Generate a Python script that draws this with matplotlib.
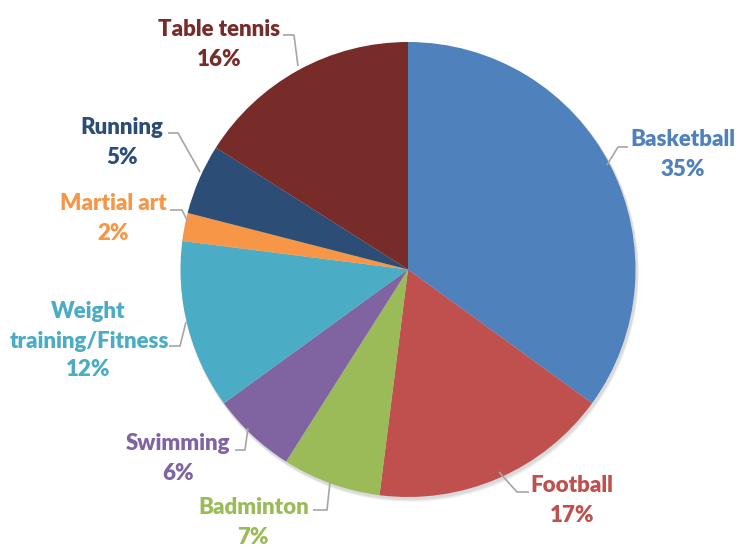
import matplotlib
matplotlib.use("Agg")
import matplotlib.pyplot as plt
from matplotlib.patches import Circle

plt.rcParams['font.family'] = ['Lato', 'DejaVu Sans']

categories = ["Basketball", "Football", "Badminton", "Swimming",
              "Weight\ntraining/Fitness", "Martial art", "Running", "Table tennis"]
values = [35, 17, 7, 6, 12, 2, 5, 16]
colors = ["#4F81BD", "#C0504D", "#9BBB59", "#8064A2",
          "#4BACC6", "#F79646", "#2C4D75", "#772C2A"]

W, H = 744, 554
fig = plt.figure(figsize=(W / 100, H / 100), dpi=100)
ax = fig.add_axes([0, 0, 1, 1])

cx, cy, R = 408, 269.5, 227.5


def P(x, y):
    return x, H - y


# subtle shadow
for off, a in [(4, 0.04), (3, 0.05), (2, 0.06)]:
    ax.add_patch(Circle(P(cx + off * 0.6, cy + off), R + 1, color="black", alpha=a, lw=0, zorder=0))

ax.pie(values, colors=colors, startangle=90, counterclock=False,
       center=P(cx, cy), radius=R, frame=True,
       wedgeprops=dict(linewidth=0, zorder=2))

# label layout (pixel coords: name-line centers, percent center, leader path)
layout = [
    dict(lines=[(683, 140)], pct=(683, 170), path=[(628, 147), (618, 147), (607, 165)]),
    dict(lines=[(572, 486)], pct=(572, 516), path=[(529, 492), (517, 492), (499, 472)]),
    dict(lines=[(254, 508)], pct=(253, 538), path=[(313, 510), (327, 510), (330, 482)]),
    dict(lines=[(178, 443)], pct=(178, 473), path=[(235, 450), (245, 450), (248, 428)]),
    dict(lines=[(88, 312), (89, 341)], pct=(88, 370), path=[(169, 346), (180, 346), (186, 322)]),
    dict(lines=[(113, 204)], pct=(113, 233), path=[(170, 210), (182, 210), (188, 222)]),
    dict(lines=[(122, 128)], pct=(122, 157), path=[(168, 133), (178, 133), (200, 172)]),
    dict(lines=[(219, 29)], pct=(219, 59), path=[(283, 35), (294, 35), (298, 66)]),
]

fs = 16
for cat, val, col, lay in zip(categories, values, colors, layout):
    for txt, (x, y) in zip(cat.split("\n"), lay["lines"]):
        ax.text(*P(x, y), txt, ha="center", va="center", fontsize=fs,
                fontweight="heavy", color=col, zorder=5)
    ax.text(*P(*lay["pct"]), f"{val}%", ha="center", va="center", fontsize=fs,
            fontweight="heavy", color=col, zorder=5)
    xs = [p[0] for p in lay["path"]]
    ys = [H - p[1] for p in lay["path"]]
    ax.plot(xs, ys, color="#A6A6A6", lw=1.2, zorder=4, solid_capstyle="butt")

ax.set_xlim(0, W)
ax.set_ylim(0, H)
ax.set_aspect("equal")
ax.axis("off")
fig.savefig("out.png", dpi=100, facecolor="white")
